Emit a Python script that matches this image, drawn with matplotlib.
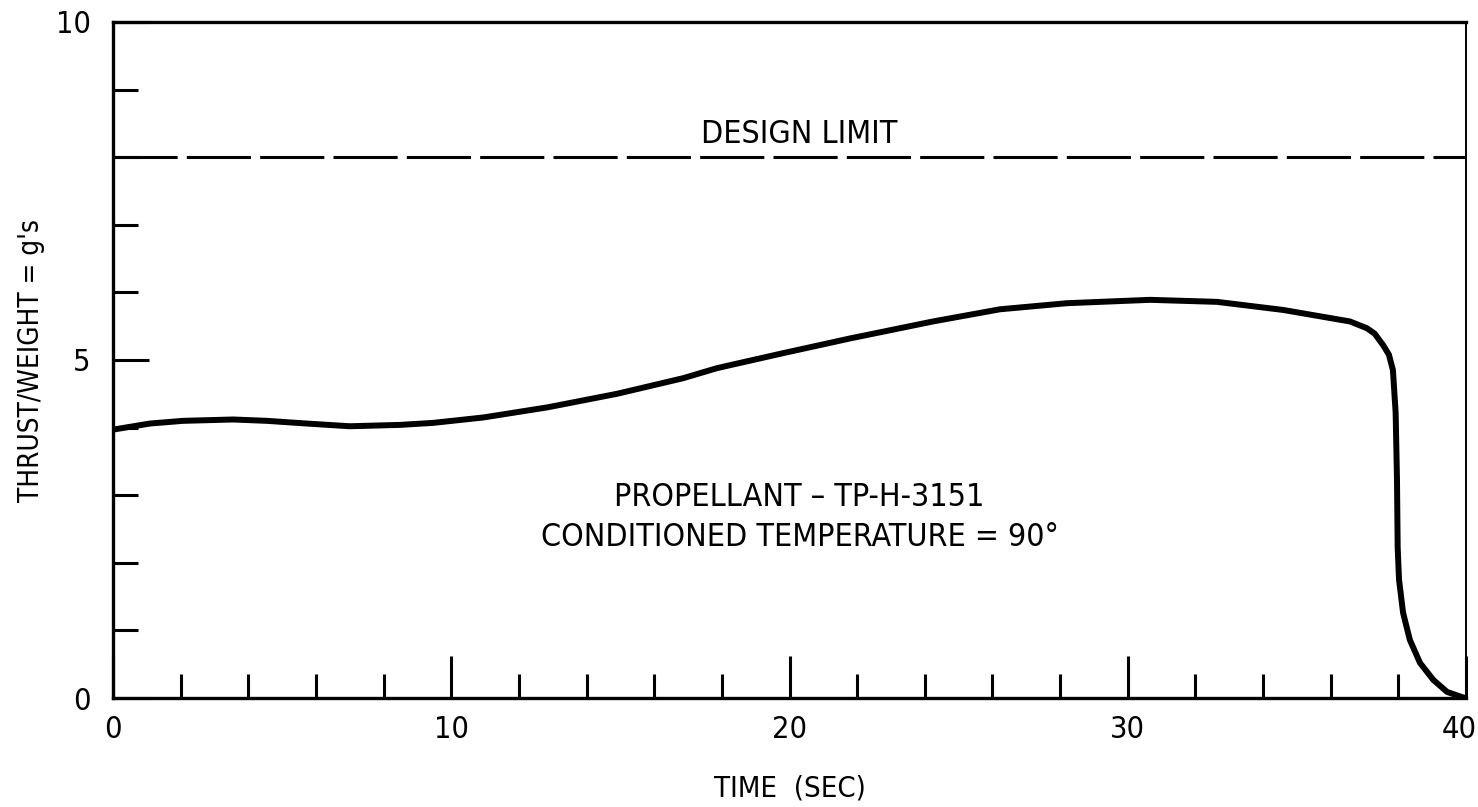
import numpy as np
import matplotlib
matplotlib.use('Agg')
from matplotlib import pyplot as plt
from matplotlib.ticker import MultipleLocator

plt.rcParams['font.family'] = ['DejaVu Sans']
plt.rcParams['font.stretch'] = 'condensed'

# thrust/weight curve
time_s = [0, 1.09, 2.07, 3.55, 4.55, 5.73, 7.0, 8.48, 9.47, 10.95, 12.85, 14.9, 16.85, 17.86,
          19.8, 21.8, 24.24, 26.22, 28.2, 30.66, 32.64, 34.6, 36.57, 37.07, 37.3, 37.55, 37.72,
          37.84, 37.92, 37.96, 37.98, 38.02, 38.14, 38.34, 38.64, 39.03, 39.44, 39.9, 40]
tw = [3.97, 4.06, 4.10, 4.12, 4.10, 4.06, 4.02, 4.04, 4.07, 4.15, 4.30, 4.50, 4.73, 4.88,
      5.10, 5.32, 5.57, 5.75, 5.84, 5.89, 5.86, 5.74, 5.57, 5.47, 5.39, 5.22, 5.08,
      4.85, 4.22, 3.22, 2.23, 1.75, 1.26, 0.86, 0.52, 0.27, 0.09, 0.01, 0.0]
design_limit = 8.0
x_ticks = [0, 10, 20, 30, 40]
x_ticklabels = ['0', '10', '20', '30', '40']

fig = plt.figure(figsize=(14.78, 8.07), dpi=100)
ax = fig.add_axes([113 / 1478, 1 - 698 / 807, (1466 - 113) / 1478, (698 - 22) / 807])

ax.plot(time_s, tw, color='black', lw=4.3, solid_capstyle='round', solid_joinstyle='round')
ax.axhline(design_limit, color='black', lw=2.2, dashes=(21, 3))

fs = 23
ax.text(20.3, 8.33, 'DESIGN LIMIT', ha='center', va='center', fontsize=fs)
ax.text(20.3, 2.97, 'PROPELLANT \u2013 TP-H-3151', ha='center', va='center', fontsize=fs)
ax.text(20.3, 2.38, 'CONDITIONED TEMPERATURE = 90\u00b0', ha='center', va='center', fontsize=fs)

ax.set_xlim(0, 40)
ax.set_ylim(0, 10)
# last label drawn by hand, shifted a little so it stays inside the figure
ax.set_xticks(x_ticks, x_ticklabels[:-1] + [''])
ax.annotate(x_ticklabels[-1], xy=(x_ticks[-1], 0), xycoords=('data', 'axes fraction'),
            xytext=(-5, -12), textcoords='offset points', ha='center', va='top', fontsize=22)
ax.xaxis.set_minor_locator(MultipleLocator(2))
ax.yaxis.set_major_locator(MultipleLocator(5))
ax.yaxis.set_minor_locator(MultipleLocator(1))
ax.tick_params(axis='both', which='both', direction='in', color='black', labelsize=22)
ax.tick_params(axis='x', which='major', length=30, width=2.2, pad=12)
ax.tick_params(axis='x', which='minor', length=17, width=2.2)
ax.tick_params(axis='y', which='major', length=26, width=2.2, pad=16)
ax.tick_params(axis='y', which='minor', length=18, width=2.2)

for side in ['left', 'bottom', 'top']:
    ax.spines[side].set_linewidth(2.4)
ax.spines['right'].set_linewidth(1.4)

ax.set_xlabel('TIME  (SEC)', fontsize=21, labelpad=22)
ax.set_ylabel("THRUST/WEIGHT = g's", fontsize=20)
ax.yaxis.set_label_coords(-0.05, 0.5)

fig.savefig('out.png', dpi=100)
